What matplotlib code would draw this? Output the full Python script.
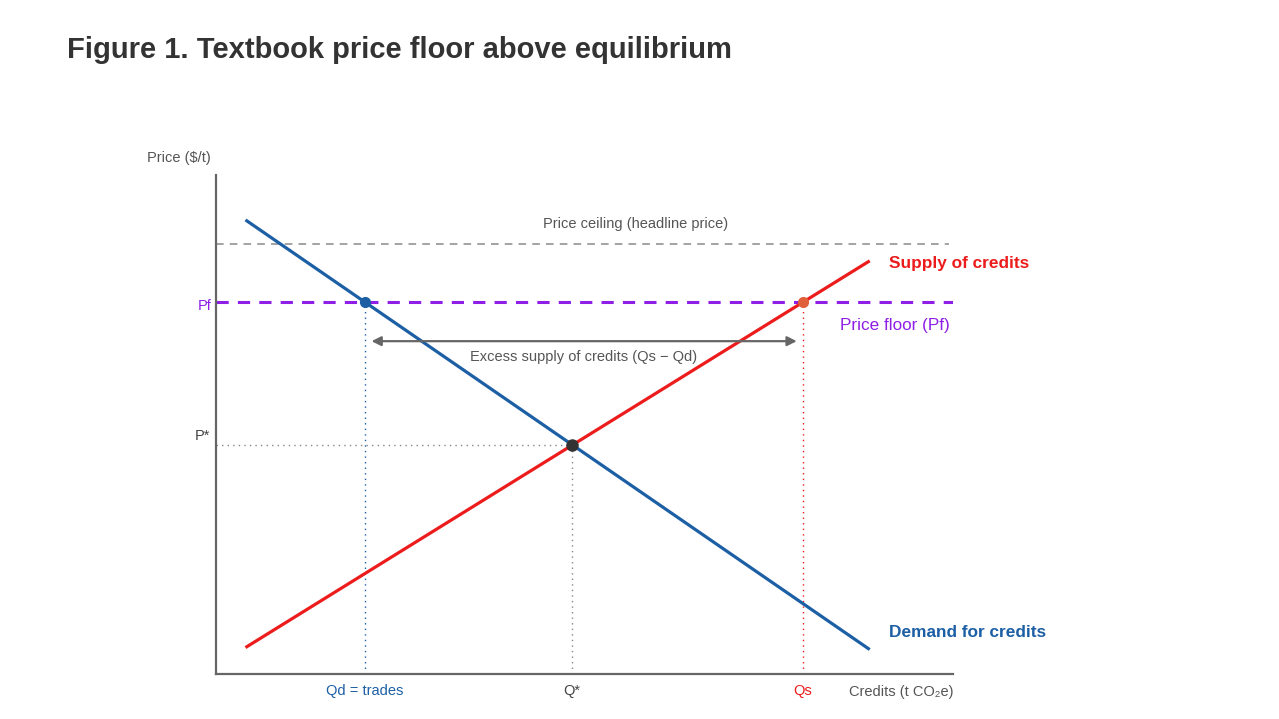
import matplotlib
matplotlib.use('Agg')
import matplotlib.pyplot as plt

plt.rcParams['font.family'] = ['Liberation Sans', 'DejaVu Sans']

# curve endpoints (quantity, price) on a 0-100 schematic scale
demand_q = [4.0, 88.7]
demand_p = [91.0, 4.9]
supply_q = [4.0, 88.7]
supply_p = [5.3, 82.8]

p_floor = 74.5
p_ceiling = 86.2
p_star = 45.9
q_star = 48.3
q_d = 20.2
q_s = 79.6

BLUE = '#1c5fa5'
RED = '#ec1c1c'
PURPLE = '#8f1ee6'
GREY = '#666666'

fig = plt.figure(figsize=(12.79, 7.19), dpi=100)
ax = fig.add_axes([216 / 1279, 45 / 719, 737 / 1279, 499 / 719])
ax.set_xlim(0, 100); ax.set_ylim(0, 100)
for s in ('top', 'right'):
    ax.spines[s].set_visible(False)
for s in ('left', 'bottom'):
    ax.spines[s].set_color(GREY); ax.spines[s].set_linewidth(1.6)
ax.set_xticks([]); ax.set_yticks([])

# ceiling and floor
ax.axhline(p_ceiling, xmax=0.995, color='#8a8a8a', lw=1.1, ls=(0, (5, 4)))
ax.axhline(p_floor, color=PURPLE, lw=2.2, ls=(0, (4, 3)))

# guide lines
ax.plot([q_d, q_d], [0, p_floor], color=BLUE, lw=1, ls=(0, (1, 3)))
ax.plot([q_s, q_s], [0, p_floor], color=RED, lw=1, ls=(0, (1, 3)))
ax.plot([0, q_star], [p_star, p_star], color='#888888', lw=1, ls=(0, (1, 3)))
ax.plot([q_star, q_star], [0, p_star], color='#888888', lw=1, ls=(0, (1, 3)))

ax.plot(demand_q, demand_p, color=BLUE, lw=2.3, solid_capstyle='butt')
ax.plot(supply_q, supply_p, color=RED, lw=2.3, solid_capstyle='butt')

ax.plot(q_d, p_floor, 'o', ms=7, color=BLUE, zorder=5)
ax.plot(q_s, p_floor, 'o', ms=7, color='#e0603a', zorder=5)
ax.plot(q_star, p_star, 'o', ms=8, color='#333333', zorder=5)

# excess supply arrow
ax.annotate('', xy=(q_s - 0.8, 66.7), xytext=(q_d + 0.9, 66.7),
            arrowprops=dict(arrowstyle='<|-|>', color=GREY, lw=1.6,
                            mutation_scale=14, shrinkA=0, shrinkB=0))
ax.text((q_d + q_s) / 2, 63.5, 'Excess supply of credits (Qs \u2212 Qd)',
        ha='center', va='center', fontsize=10.5, color='#555555')

ax.text(56.9, 90.2, 'Price ceiling (headline price)', ha='center',
        va='center', fontsize=10.5, color='#555555')
ax.text(91.3, 82.2, 'Supply of credits', ha='left', va='center',
        fontsize=12.4, fontweight='bold', color=RED, clip_on=False)
ax.text(91.3, 8.4, 'Demand for credits', ha='left', va='center',
        fontsize=12.4, fontweight='bold', color=BLUE, clip_on=False)
ax.text(99.6, 69.9, 'Price floor (Pf)', ha='right', va='center',
        fontsize=12.3, color=PURPLE, clip_on=False)

# axis labels
ax.text(-5.0, 103.4, 'Price ($/t)', ha='center', va='center',
        fontsize=10.5, color='#555555', clip_on=False)
ax.text(100, -3.6, 'Credits (t CO\u2082e)', ha='right', va='center',
        fontsize=10.5, color='#555555', clip_on=False)
ax.annotate('Pf', (0, p_floor), xytext=(-3.5, -3), textcoords='offset points',
            ha='right', va='center', fontsize=10.5, color=PURPLE)
ax.annotate('P*', (0, p_star), xytext=(-4, 6.5), textcoords='offset points',
            ha='right', va='center', fontsize=10.5, color='#444444')
for q, lab, c in [(q_d, 'Qd = trades', BLUE), (q_star, 'Q*', '#444444'),
                  (q_s, 'Qs', RED)]:
    ax.annotate(lab, (q, 0), xytext=(0, -12), textcoords='offset points',
                ha='center', va='center', fontsize=10.5, color=c)

fig.text(67 / 1279, 1 - 49.5 / 719, 'Figure 1. Textbook price floor above equilibrium',
         ha='left', va='center', fontsize=21, fontweight='bold',
         color='#333333')

fig.savefig('out.png', dpi=100)
